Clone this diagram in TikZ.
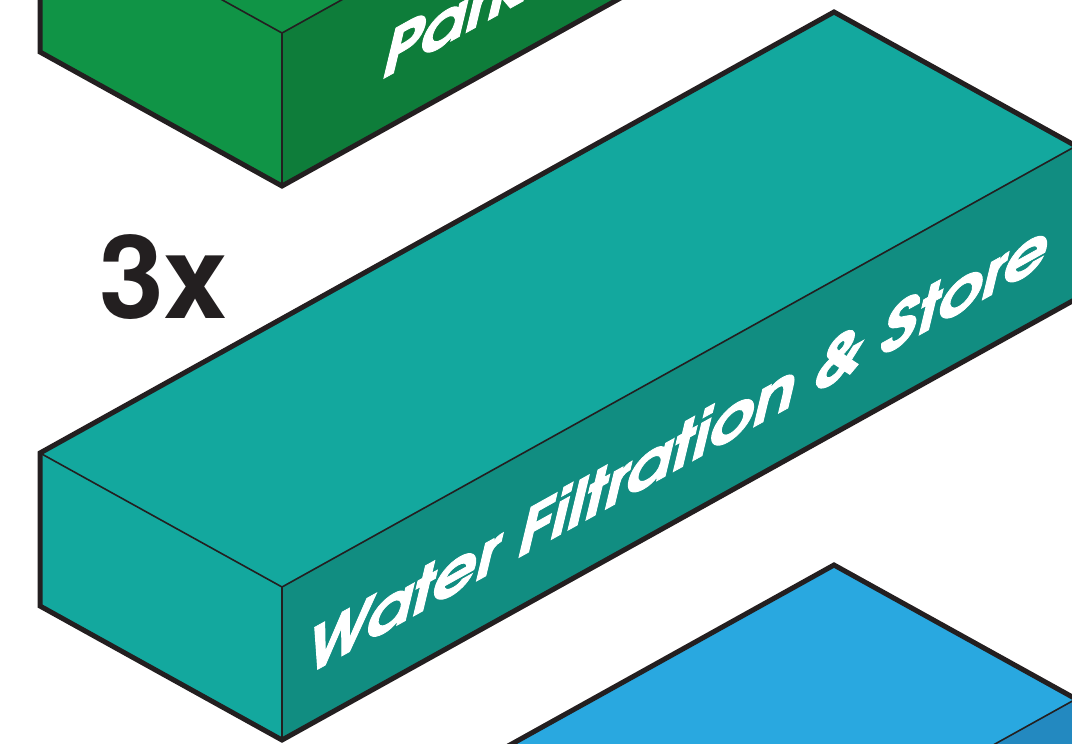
\documentclass[tikz,border=0pt]{standalone}
\usepackage{fontspec}
\newfontfamily\advfont{texgyreadventor-bold.otf}[FakeBold=1.6]
\newfontfamily\heros{TeX Gyre Heros}
\definecolor{tealtop}{RGB}{19,168,158}
\definecolor{tealside}{RGB}{17,141,129}
\definecolor{greenleft}{RGB}{16,148,70}
\definecolor{greenside}{RGB}{14,125,58}
\definecolor{bluetop}{RGB}{41,168,224}
\definecolor{blueside}{RGB}{35,137,192}
\definecolor{ink}{RGB}{35,31,32}
\newcommand\isobox[4]{%
  \begin{scope}[shift={(0,#1)}]
    \coordinate (L) at (40,453);
    \coordinate (T) at (834,12);
    \coordinate (R) at (1076,146);
    \coordinate (F) at (282,587);
    \coordinate (FB) at (282,740);
    \coordinate (LB) at (40,606);
    \coordinate (RB) at (1076,299);
    \fill[#2] (L) -- (T) -- (R) -- (F) -- cycle;
    \fill[#3] (L) -- (F) -- (FB) -- (LB) -- cycle;
    \fill[#4] (F) -- (R) -- (RB) -- (FB) -- cycle;
    \draw[edge] (L) -- (F) -- (R);
    \draw[edge] (F) -- (FB);
    \draw[outline] (L) -- (T) -- (R) -- (RB) -- (FB) -- (LB) -- cycle;
  \end{scope}}
\begin{document}
\begin{tikzpicture}[x=1pt,y=-1pt,
  outline/.style={draw=ink, line width=5pt, line join=miter},
  edge/.style={draw=ink, line width=1.6pt},
  facetext/.style={text=white, inner sep=0pt,
    font=\advfont\fontsize{68}{68}\selectfont,
    cm={1.019,0.5663,0.24,1,(0,0)}}
]
\useasboundingbox (0,0) rectangle (1072,744);
\clip (0,0) rectangle (1072,744);
\isobox{-554}{greenleft}{greenleft}{greenside}
\isobox{0}{tealtop}{tealtop}{tealside}
\isobox{553}{bluetop}{bluetop}{blueside}
\node[facetext, anchor=base] (tealtext) at (673,471.8) {Water Filtration \& Store};
\node[facetext, anchor=base west] (greentext) at (379,81) {Park};
\node[font=\heros\bfseries\fontsize{116}{116}\selectfont, text=ink,
  anchor=base west, inner sep=0pt] (count) at (99,318) {3x};
\end{tikzpicture}
\end{document}
